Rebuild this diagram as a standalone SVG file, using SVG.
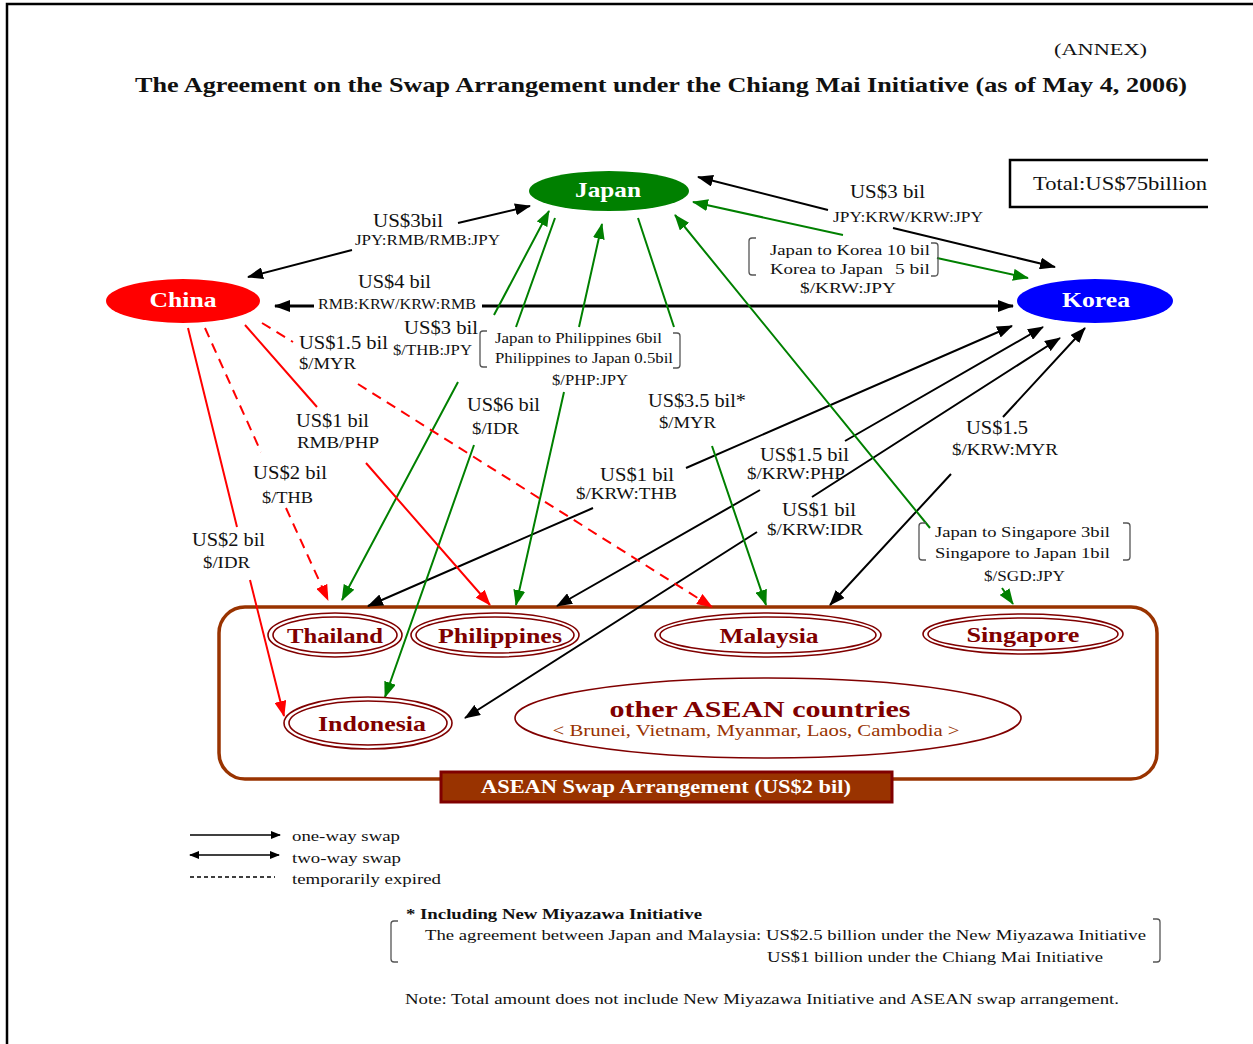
<svg xmlns="http://www.w3.org/2000/svg" width="1253" height="1044" viewBox="0 0 1253 1044">
<style>
text{font-family:"Liberation Serif","Times New Roman",serif;fill:#111}
.b{font-weight:bold}
.s18{font-size:18px}.s17{font-size:17px}.s15{font-size:15px}.s14{font-size:14px}
.nl{font-weight:bold;font-size:21px;fill:#fff;text-anchor:middle}
.cl{font-weight:bold;font-size:21px;fill:#800000;text-anchor:middle}
.k{fill:none;stroke:#000;stroke-width:2}
.g{fill:none;stroke:#008000;stroke-width:2}
.r{fill:none;stroke:#ff0000;stroke-width:2}
.d{stroke-dasharray:10 7}
.br{fill:none;stroke:#555;stroke-width:1.3}
.o1{fill:none;stroke:#800000;stroke-width:1.6}
</style>
<defs>
<marker id="ak" markerUnits="userSpaceOnUse" markerWidth="16" markerHeight="12" refX="15" refY="6" orient="auto-start-reverse"><path d="M0,0 L16,6 L0,12 z" fill="#000"/></marker>
<marker id="ag" markerUnits="userSpaceOnUse" markerWidth="16" markerHeight="12" refX="15" refY="6" orient="auto-start-reverse"><path d="M0,0 L16,6 L0,12 z" fill="#008000"/></marker>
<marker id="ar" markerUnits="userSpaceOnUse" markerWidth="16" markerHeight="12" refX="15" refY="6" orient="auto-start-reverse"><path d="M0,0 L16,6 L0,12 z" fill="#ff0000"/></marker>
<marker id="al" markerUnits="userSpaceOnUse" markerWidth="10" markerHeight="8" refX="9" refY="4" orient="auto-start-reverse"><path d="M0,0 L10,4 L0,8 z" fill="#000"/></marker>
</defs>
<rect width="1253" height="1044" fill="#fff"/>
<path d="M7,1044 V4 H1253" fill="none" stroke="#000" stroke-width="2.5"/>

<text x="1054" y="55" class="s17" textLength="93" lengthAdjust="spacingAndGlyphs">(ANNEX)</text>
<text x="135" y="92" class="b" font-size="21" textLength="1052" lengthAdjust="spacingAndGlyphs">The Agreement on the Swap Arrangement under the Chiang Mai Initiative (as of May 4, 2006)</text>

<g id="total">
<path d="M1208,160 H1010 V207 H1208" fill="none" stroke="#000" stroke-width="2.5"/>
<text x="1033" y="190" font-size="19" textLength="174" lengthAdjust="spacingAndGlyphs">Total:US$75billion</text>
</g>

<g id="asean-box">
<rect x="219" y="607" width="938" height="172" rx="26" fill="none" stroke="#993300" stroke-width="3.5"/>
<rect x="441" y="772" width="451" height="30" fill="#993300" stroke="#800000" stroke-width="3"/>
<text x="666" y="793" class="b" font-size="18" fill="#fff" text-anchor="middle" style="fill:#fff" textLength="370" lengthAdjust="spacingAndGlyphs">ASEAN Swap Arrangement (US$2 bil)</text>
</g>

<g id="connectors">
<!-- black -->
<path class="k" d="M248,277 L352,250 M458,223 L530,206" marker-start="url(#ak)" marker-end="url(#ak)"/>
<path class="k" style="stroke-width:3" d="M275,306 L314,306 M482,306 L1013,306" marker-start="url(#ak)" marker-end="url(#ak)"/>
<path class="k" d="M698,177 L828,210 M893,228 L1055,267" marker-start="url(#ak)" marker-end="url(#ak)"/>
<path class="k" d="M1012,326 L686,468 M593,508 L368,606" marker-start="url(#ak)" marker-end="url(#ak)"/>
<path class="k" d="M1043,327 L845,441 M760,490 L557,606" marker-start="url(#ak)" marker-end="url(#ak)"/>
<path class="k" d="M1060,338 L812,497 M757,532 L465,718" marker-start="url(#ak)" marker-end="url(#ak)"/>
<path class="k" d="M1085,328 L1003,417 M951,474 L830,605" marker-start="url(#ak)" marker-end="url(#ak)"/>
<!-- green -->
<path class="g" d="M549,211 L494,315 M458,382 L342,600" marker-start="url(#ag)" marker-end="url(#ag)"/>
<path class="g" d="M555,218 L516,327 M474,445 L385,697" marker-end="url(#ag)"/>
<path class="g" d="M602,224 L579,327 M564,392 L516,605" marker-start="url(#ag)" marker-end="url(#ag)"/>
<path class="g" d="M638,218 L674,327 M712,446 L766,605" marker-end="url(#ag)"/>
<path class="g" d="M675,215 L930,528 M1002,588 L1013,604" marker-start="url(#ag)" marker-end="url(#ag)"/>
<path class="g" d="M693,202 L843,235 M937,258 L1028,278" marker-start="url(#ag)" marker-end="url(#ag)"/>
<!-- red -->
<path class="r" d="M188,328 L237,527 M250,580 L284,716" marker-end="url(#ar)"/>
<path class="r d" d="M205,328 L261,452 M286,508 L328,600" marker-end="url(#ar)"/>
<path class="r" d="M245,325 L317,407 M366,463 L490,605" marker-end="url(#ar)"/>
<path class="r d" d="M262,323 L293,342 M358,384 L712,607" marker-end="url(#ar)"/>
</g>

<g id="labels">
<text x="373" y="227" class="s18" textLength="70" lengthAdjust="spacingAndGlyphs">US$3bil</text>
<text x="355" y="245" class="s14" textLength="145" lengthAdjust="spacingAndGlyphs">JPY:RMB/RMB:JPY</text>
<text x="850" y="198" class="s18" textLength="75" lengthAdjust="spacingAndGlyphs">US$3 bil</text>
<text x="833" y="222" class="s14" textLength="150" lengthAdjust="spacingAndGlyphs">JPY:KRW/KRW:JPY</text>
<path class="br" d="M756,238 H752 Q749,238 749,241 V272 Q749,275 752,275 H756"/>
<path class="br" d="M931,243 H935 Q938,243 938,246 V272 Q938,276 935,276 H931"/>
<text x="770" y="255" class="s15" textLength="160" lengthAdjust="spacingAndGlyphs">Japan to Korea 10 bil</text>
<text x="770" y="274" class="s15" textLength="113" lengthAdjust="spacingAndGlyphs">Korea to Japan</text>
<text x="895" y="274" class="s15" textLength="35" lengthAdjust="spacingAndGlyphs">5 bil</text>
<text x="800" y="293" class="s15" textLength="96" lengthAdjust="spacingAndGlyphs">$/KRW:JPY</text>
<text x="358" y="288" class="s18" textLength="73" lengthAdjust="spacingAndGlyphs">US$4 bil</text>
<text x="318" y="309" class="s14" textLength="158" lengthAdjust="spacingAndGlyphs">RMB:KRW/KRW:RMB</text>
<text x="299" y="349" class="s18" textLength="89" lengthAdjust="spacingAndGlyphs">US$1.5 bil</text>
<text x="299" y="369" class="s17" textLength="57" lengthAdjust="spacingAndGlyphs">$/MYR</text>
<text x="404" y="334" class="s18" textLength="74" lengthAdjust="spacingAndGlyphs">US$3 bil</text>
<text x="393" y="355" class="s14" textLength="79" lengthAdjust="spacingAndGlyphs">$/THB:JPY</text>
<path class="br" d="M487,331 H483 Q480,331 480,334 V364 Q480,367 483,367 H487"/>
<path class="br" d="M673,333 H677 Q680,333 680,336 V365 Q680,368 677,368 H673"/>
<text x="495" y="343" class="s14" textLength="167" lengthAdjust="spacingAndGlyphs">Japan to Philippines 6bil</text>
<text x="495" y="363" class="s14" textLength="178" lengthAdjust="spacingAndGlyphs">Philippines to Japan 0.5bil</text>
<text x="552" y="385" class="s15" textLength="76" lengthAdjust="spacingAndGlyphs">$/PHP:JPY</text>
<text x="467" y="411" class="s18" textLength="73" lengthAdjust="spacingAndGlyphs">US$6 bil</text>
<text x="472" y="434" class="s17" textLength="47" lengthAdjust="spacingAndGlyphs">$/IDR</text>
<text x="648" y="407" class="s18" textLength="98" lengthAdjust="spacingAndGlyphs">US$3.5 bil*</text>
<text x="659" y="428" class="s17" textLength="57" lengthAdjust="spacingAndGlyphs">$/MYR</text>
<text x="296" y="427" class="s18" textLength="73" lengthAdjust="spacingAndGlyphs">US$1 bil</text>
<text x="297" y="448" class="s17" textLength="82" lengthAdjust="spacingAndGlyphs">RMB/PHP</text>
<text x="253" y="479" class="s18" textLength="74" lengthAdjust="spacingAndGlyphs">US$2 bil</text>
<text x="262" y="503" class="s17" textLength="51" lengthAdjust="spacingAndGlyphs">$/THB</text>
<text x="600" y="481" class="s18" textLength="74" lengthAdjust="spacingAndGlyphs">US$1 bil</text>
<text x="576" y="499" class="s17" textLength="101" lengthAdjust="spacingAndGlyphs">$/KRW:THB</text>
<text x="760" y="461" class="s18" textLength="89" lengthAdjust="spacingAndGlyphs">US$1.5 bil</text>
<text x="747" y="479" class="s17" textLength="98" lengthAdjust="spacingAndGlyphs">$/KRW:PHP</text>
<text x="966" y="434" class="s18" textLength="62" lengthAdjust="spacingAndGlyphs">US$1.5</text>
<text x="952" y="455" class="s17" textLength="106" lengthAdjust="spacingAndGlyphs">$/KRW:MYR</text>
<text x="782" y="516" class="s18" textLength="74" lengthAdjust="spacingAndGlyphs">US$1 bil</text>
<text x="767" y="535" class="s17" textLength="96" lengthAdjust="spacingAndGlyphs">$/KRW:IDR</text>
<text x="192" y="546" class="s18" textLength="73" lengthAdjust="spacingAndGlyphs">US$2 bil</text>
<text x="203" y="568" class="s17" textLength="47" lengthAdjust="spacingAndGlyphs">$/IDR</text>
<path class="br" d="M926,523 H922 Q919,523 919,526 V557 Q919,560 922,560 H926"/>
<path class="br" d="M1123,523 H1127 Q1130,523 1130,526 V557 Q1130,560 1127,560 H1123"/>
<text x="935" y="537" class="s15" textLength="175" lengthAdjust="spacingAndGlyphs">Japan to Singapore 3bil</text>
<text x="935" y="558" class="s15" textLength="175" lengthAdjust="spacingAndGlyphs">Singapore to Japan 1bil</text>
<text x="984" y="581" class="s15" textLength="81" lengthAdjust="spacingAndGlyphs">$/SGD:JPY</text>
</g>

<g id="japan"><ellipse cx="609" cy="191" rx="80" ry="20" fill="#008000"/><text x="608" y="197" class="nl" textLength="66" lengthAdjust="spacingAndGlyphs">Japan</text></g>
<g id="china"><ellipse cx="183" cy="301" rx="77" ry="22" fill="#ff0000"/><text x="183" y="307" class="nl" textLength="67" lengthAdjust="spacingAndGlyphs">China</text></g>
<g id="korea"><ellipse cx="1095" cy="301" rx="78" ry="22" fill="#0000ff"/><text x="1096" y="307" class="nl" textLength="68" lengthAdjust="spacingAndGlyphs">Korea</text></g>

<g id="thailand"><ellipse cx="335" cy="635" rx="67" ry="22" class="o1"/><ellipse cx="335" cy="635" rx="62" ry="18" class="o1"/><text x="335" y="643" class="cl" textLength="96" lengthAdjust="spacingAndGlyphs">Thailand</text></g>
<g id="philippines"><ellipse cx="495" cy="635" rx="84" ry="22" class="o1"/><ellipse cx="495" cy="635" rx="79" ry="18" class="o1"/><text x="500" y="643" class="cl" textLength="124" lengthAdjust="spacingAndGlyphs">Philippines</text></g>
<g id="malaysia"><ellipse cx="768" cy="635" rx="113" ry="22" class="o1"/><ellipse cx="768" cy="635" rx="108" ry="18" class="o1"/><text x="769" y="643" class="cl" textLength="99" lengthAdjust="spacingAndGlyphs">Malaysia</text></g>
<g id="singapore"><ellipse cx="1023" cy="634" rx="100" ry="20" class="o1"/><ellipse cx="1023" cy="634" rx="95" ry="16" class="o1"/><text x="1023" y="642" class="cl" textLength="113" lengthAdjust="spacingAndGlyphs">Singapore</text></g>
<g id="indonesia"><ellipse cx="368" cy="723" rx="84" ry="26" class="o1"/><ellipse cx="368" cy="723" rx="79" ry="22" class="o1"/><text x="372" y="731" class="cl" textLength="108" lengthAdjust="spacingAndGlyphs">Indonesia</text></g>
<g id="other-asean"><ellipse cx="768" cy="718" rx="253" ry="40" class="o1" stroke-width="1.2"/>
<text x="760" y="717" class="b" font-size="24" fill="#800000" style="fill:#800000" text-anchor="middle" textLength="301" lengthAdjust="spacingAndGlyphs">other ASEAN countries</text>
<text x="756" y="736" font-size="17" style="fill:#993300" text-anchor="middle" textLength="407" lengthAdjust="spacingAndGlyphs">&lt; Brunei, Vietnam, Myanmar, Laos, Cambodia &gt;</text></g>

<g id="legend">
<line x1="190" y1="835" x2="280" y2="835" stroke="#000" stroke-width="1.3" marker-end="url(#al)"/>
<line x1="190" y1="855" x2="279" y2="855" stroke="#000" stroke-width="1.3" marker-start="url(#al)" marker-end="url(#al)"/>
<line x1="190" y1="877" x2="275" y2="877" stroke="#000" stroke-width="1.3" stroke-dasharray="4 3"/>
<text x="292" y="841" class="s15" textLength="108" lengthAdjust="spacingAndGlyphs">one-way swap</text>
<text x="292" y="863" class="s15" textLength="109" lengthAdjust="spacingAndGlyphs">two-way swap</text>
<text x="292" y="884" class="s15" textLength="149" lengthAdjust="spacingAndGlyphs">temporarily expired</text>
</g>

<g id="notes">
<text x="406" y="919" class="s15 b" textLength="296" lengthAdjust="spacingAndGlyphs">* Including New Miyazawa Initiative</text>
<path class="br" d="M398,921 H394 Q391,921 391,924 V959 Q391,962 394,962 H398"/>
<path class="br" d="M1153,919 H1157 Q1160,919 1160,922 V959 Q1160,962 1157,962 H1153"/>
<text x="425" y="940" class="s15" textLength="721" lengthAdjust="spacingAndGlyphs">The agreement between Japan and Malaysia: US$2.5 billion under the New Miyazawa Initiative</text>
<text x="767" y="962" class="s15" textLength="336" lengthAdjust="spacingAndGlyphs">US$1 billion under the Chiang Mai Initiative</text>
<text x="405" y="1004" class="s15" textLength="714" lengthAdjust="spacingAndGlyphs">Note: Total amount does not include New Miyazawa Initiative and ASEAN swap arrangement.</text>
</g>
</svg>
